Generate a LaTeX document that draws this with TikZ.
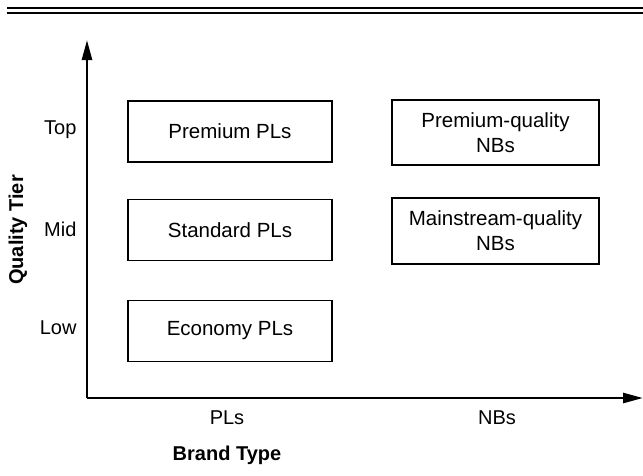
\documentclass[tikz,border=0pt]{standalone}
\usepackage{fontspec}
\setmainfont{Liberation Sans}
\usetikzlibrary{arrows.meta}
\begin{document}
\begin{tikzpicture}[x=1pt,y=-1pt,
  box/.style={draw,line width=1.8pt,minimum width=204pt,minimum height=61pt,align=center,font=\fontsize{20.5}{25}\selectfont},
  tick/.style={font=\fontsize{20}{24}\selectfont},
  title/.style={font=\fontsize{20}{24}\selectfont\bfseries}]
\useasboundingbox (0,0) rectangle (643,475);
\draw[line width=1.4pt] (7,8)--(643,8);
\draw[line width=1.4pt] (7,13)--(643,13);
  \coordinate (o) at (87,398);
  \coordinate (ytop) at (87,40);
  \coordinate (xend) at (643,398);
  \draw[line width=2.6pt,-{Triangle[length=20pt,width=10pt]}] (o)--(ytop);
  \draw[line width=2.6pt,-{Triangle[length=20pt,width=10pt]}] (o)--(xend);
  \node[box] at (230,131.5) (ppl) {Premium PLs};
  \node[box] at (230,230) (spl) {Standard PLs};
  \node[box] at (230,331) (epl) {Economy PLs};
  \node[box,minimum width=207pt,minimum height=65pt] at (495.5,132.5) (pnb) {Premium-quality\\NBs};
  \node[box,minimum width=207pt,minimum height=66pt] at (495.5,231) (mnb) {Mainstream-quality\\NBs};
  \node[tick,anchor=east] at (80,130) (top) {Top};
  \node[tick,anchor=east] at (80,229) (mid) {Mid};
  \node[tick,anchor=east] at (80,328) (low) {Low};
  \node[tick] at (227,418) (pls) {PLs};
  \node[tick] at (497,418) (nbs) {NBs};
  \node[title] at (227,455) (xlab) {Brand Type};
  \node[title,rotate=90] at (18,230) (ylab) {Quality Tier};
\end{tikzpicture}
\end{document}
